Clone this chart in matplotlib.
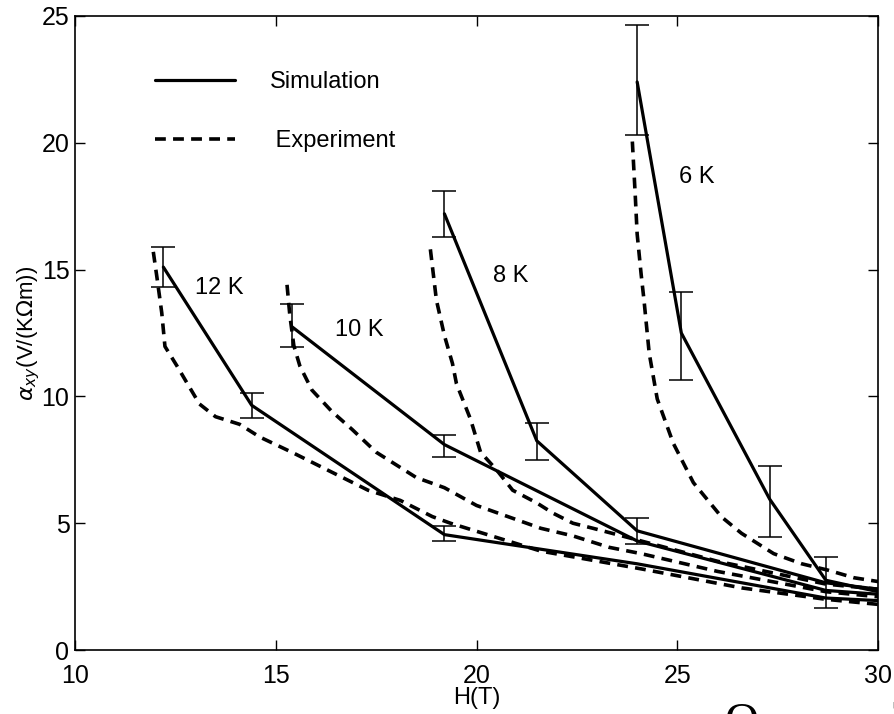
import matplotlib
matplotlib.use("Agg")
import matplotlib.pyplot as plt
import numpy as np

plt.rcParams["font.family"] = ["Liberation Sans", "DejaVu Sans"]

# simulation (solid) polylines, one per temperature
sim_6K_H = [24.0, 25.1, 27.3, 28.7, 30.0]
sim_6K_a = [22.4, 12.5, 5.95, 2.75, 2.3]
sim_8K_H = [19.2, 21.5, 24.0, 28.7, 30.0]
sim_8K_a = [17.2, 8.25, 4.7, 2.65, 2.4]
sim_10K_H = [15.4, 19.2, 24.0, 28.7, 30.0]
sim_10K_a = [12.75, 8.1, 4.3, 2.35, 2.2]
sim_12K_H = [12.2, 14.4, 19.2, 24.0, 28.7, 30.0]
sim_12K_a = [15.1, 9.65, 4.55, 3.4, 2.05, 1.95]

# experiment (dashed) curves
exp_6K_H = [23.88, 23.95, 24.0, 24.1, 24.17, 24.3, 24.5, 24.9, 25.4, 26.1, 26.6, 27.4, 28.1, 28.75, 29.4, 30.0]
exp_6K_a = [20.05, 18.0, 16.4, 14.8, 13.8, 11.7, 9.9, 8.15, 6.6, 5.25, 4.6, 3.8, 3.4, 3.15, 2.85, 2.7]
exp_8K_H = [18.85, 19.0, 19.2, 19.4, 19.5, 19.85, 20.1, 20.5, 20.9, 21.5, 21.9, 22.4, 22.9, 24.1, 26.0, 28.7, 30.0]
exp_8K_a = [15.8, 13.8, 12.4, 11.3, 10.5, 9.1, 7.8, 7.1, 6.3, 5.8, 5.4, 5.0, 4.8, 4.3, 3.5, 2.6, 2.4]
exp_10K_H = [15.28, 15.35, 15.45, 15.6, 15.9, 16.4, 16.9, 17.5, 18.5, 19.2, 20.0, 20.8, 21.6, 22.4, 23.3, 24.1, 26.0, 28.7, 30.0]
exp_10K_a = [14.4, 13.2, 12.0, 11.2, 10.25, 9.4, 8.7, 7.8, 6.8, 6.4, 5.7, 5.25, 4.8, 4.5, 4.05, 3.8, 3.1, 2.3, 2.1]
exp_12K_H = [11.95, 12.04, 12.16, 12.24, 12.54, 12.8, 13.1, 13.5, 14.1, 14.6, 15.45, 16.45, 17.3, 18.1, 18.9, 19.35, 21.6, 24.1, 26.6, 28.7, 30.0]
exp_12K_a = [15.7, 14.7, 13.3, 11.97, 11.2, 10.5, 9.7, 9.2, 8.9, 8.4, 7.76, 6.97, 6.3, 5.9, 5.26, 5.0, 3.9, 3.2, 2.45, 2.0, 1.8]

# error bars on the simulation points
err_H = [12.2, 14.4, 19.2, 15.4, 19.2, 19.2, 21.5, 24.0, 24.0, 25.1, 27.3, 28.7]
err_lo = [14.3, 9.16, 4.3, 11.96, 7.63, 16.3, 7.5, 4.2, 20.3, 10.65, 4.47, 1.65]
err_hi = [15.9, 10.15, 4.9, 13.65, 8.48, 18.1, 8.95, 5.2, 24.65, 14.1, 7.26, 3.67]

temp_labels = ["12 K", "10 K", "8 K", "6 K"]
label_H = [12.99, 16.48, 20.42, 25.04]
label_a = [14.28, 12.62, 14.73, 18.66]

fig = plt.figure(figsize=(8.94, 7.14), dpi=100)
ax = fig.add_axes([0.0839, 0.0896, 0.8983, 0.888])

sim_kw = dict(color="black", linewidth=2.3, solid_capstyle="round")
exp_kw = dict(color="black", linewidth=2.6, dashes=(3.0, 2.0))

for H, a in [(sim_6K_H, sim_6K_a), (sim_8K_H, sim_8K_a), (sim_10K_H, sim_10K_a), (sim_12K_H, sim_12K_a)]:
    ax.plot(H, a, **sim_kw)
for H, a in [(exp_6K_H, exp_6K_a), (exp_8K_H, exp_8K_a), (exp_10K_H, exp_10K_a), (exp_12K_H, exp_12K_a)]:
    ax.plot(H, a, **exp_kw)

lo = np.array(err_lo)
hi = np.array(err_hi)
mid = (lo + hi) / 2
ax.errorbar(err_H, mid, yerr=[mid - lo, hi - mid], fmt="none", ecolor="black",
            elinewidth=1.1, capsize=8.5, capthick=1.1)

for t, x, y in zip(temp_labels, label_H, label_a):
    ax.text(x, y, t, fontsize=17, ha="left", va="center")

# legend
ax.plot([], [], label="Simulation", **sim_kw)
ax.plot([], [], label=" Experiment", **exp_kw)
ax.legend(loc="upper left", bbox_to_anchor=(0.073, 0.946), frameon=False, fontsize=17,
          handlelength=3.4, handletextpad=1.45, labelspacing=1.55)

ax.set_xlim(10, 30)
ax.set_ylim(0, 25)
ax.set_xticks([10, 15, 20, 25, 30])
ax.set_yticks([0, 5, 10, 15, 20, 25])
ax.tick_params(direction="in", top=True, right=True, length=7, width=1, labelsize=18)
ax.tick_params(axis="x", pad=10)
ax.tick_params(axis="y", pad=4)
for s in ax.spines.values():
    s.set_linewidth(1.2)

ax.set_xlabel("H(T)", fontsize=17, labelpad=-1)
ax.set_ylabel(r"$\alpha_{xy}$(V/(K$\Omega$m))", fontsize=16, labelpad=0)

# edges of the next page's text, cropped in the original
fig.text(0.829, -0.043, "O", fontsize=34, family="Liberation Serif", ha="center", va="bottom")
fig.text(0.998, -0.035, "T", fontsize=30, family="Liberation Serif", ha="left", va="bottom")

fig.savefig("out.png", dpi=100)
